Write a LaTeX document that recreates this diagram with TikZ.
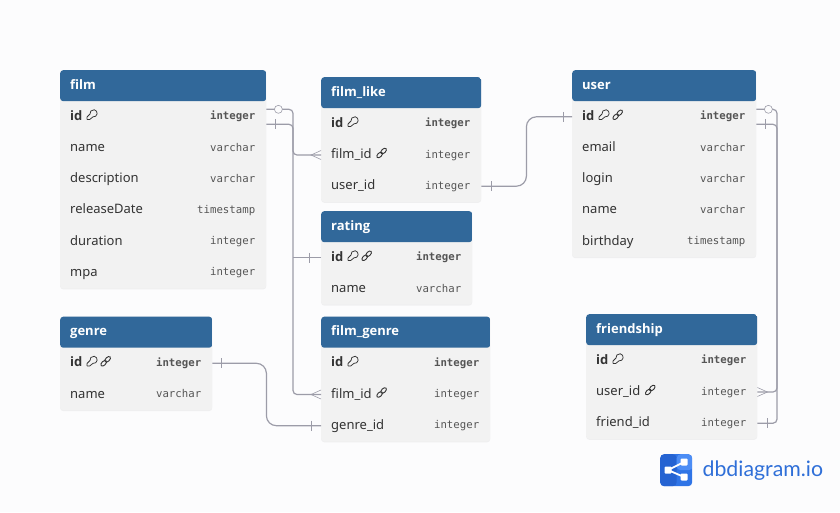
\documentclass[tikz,border=0pt]{standalone}
\usepackage{fontspec}
\setmainfont{Noto Sans}[BoldFont={Open Sans Bold}]
\setmonofont{DejaVu Sans Mono}
\newfontfamily\logofont{Lato}
\usetikzlibrary{positioning,shadows}
\definecolor{pagebg}{HTML}{FCFCFD}
\definecolor{headblue}{HTML}{31689A}
\definecolor{rowgray}{HTML}{F2F2F2}
\definecolor{textdark}{HTML}{333333}
\definecolor{typegray}{HTML}{555555}
\definecolor{relgray}{HTML}{9C9CA8}
\definecolor{logodark}{HTML}{2563D2}
\definecolor{logomid}{HTML}{2F74E6}
\definecolor{logolight}{HTML}{4C8DF5}
\definecolor{logotext}{HTML}{2F6FD8}
\tikzset{
    tablebox/.style={anchor=north west,fill=rowgray,rounded corners=3pt,inner sep=0pt,
        drop shadow={shadow xshift=0pt,shadow yshift=-1pt,fill=black,opacity=.05}},
    tablehead/.style={anchor=north west,inner sep=0pt,minimum height=31pt,text=white,
        text height=11pt,text depth=4pt,font=\fontsize{13}{15}\selectfont\bfseries},
    tablerow/.style={anchor=north west,inner ysep=0pt,inner xsep=10pt,minimum height=31.2pt,align=left,
        text=textdark,text height=11pt,text depth=4pt,font=\fontsize{13}{15}\selectfont},
    rowtype/.style={anchor=east,inner sep=0pt,text=typegray,text height=9pt,text depth=3pt,font=\fontsize{10.7}{13}\selectfont\ttfamily},
    relline/.style={draw=relgray,line width=1.2pt,rounded corners=#1},
    relline/.default=4pt,
    relmark/.style={draw=relgray,line width=.6pt},
}
\newcommand{\keyicon}{\tikz[x=1pt,y=1pt,baseline=-.5pt,line width=.75pt]{
    \draw[line join=round] (.5,.4) -- (3.2,.4) -- (6.37,2.95) arc[start angle=-100,end angle=190,radius=3.6pt] -- (.5,2.9) -- cycle;
}}
\newcommand{\linkicon}{\tikz[x=1pt,y=1pt,baseline=-.5pt,line width=.9pt]{
    \draw[rotate around={45:(3,3)}] (3,3) ellipse (3.4pt and 2pt);
    \draw[rotate around={45:(7,7)}] (7,7) ellipse (3.4pt and 2pt);
}}
% id, title, x, y, width, rows
\newcommand{\dbtable}[6]{
    \foreach \rowname/\rowtype [count=\rowcount] in {#6} {\xdef\lastrow{\rowcount}}
    \pgfmathsetmacro{\boxh}{31+31.2*\lastrow}
    \pgfmathsetmacro{\rowtw}{#5-20}
    \node[tablebox,minimum width=#5pt,minimum height=\boxh pt,
        path picture={\fill[headblue] (path picture bounding box.north west) rectangle ++(#5,31);}]
        (#1) at (#3,#4) {};
    \node[tablehead,right=10pt of #1.north west,anchor=north west] (#1head) {#2};
    \foreach \rowname/\rowtype [count=\rowcount] in {#6} {
        \pgfmathsetmacro{\rowy}{-31-31.2*(\rowcount-1)}
        \node[tablerow,text width=\rowtw pt] (#1\rowcount) at ([yshift=\rowy pt]#1.north west) {\rowname};
        \node[rowtype] (#1\rowcount t) at ([xshift=-11pt]#1\rowcount.east) {\rowtype};
    }
}
\newcommand{\barmark}[2]{\draw[relmark] ([xshift=#1,yshift=5pt]#2) -- ([xshift=#1,yshift=-5pt]#2);}
\begin{document}
\begin{tikzpicture}[x=1pt,y=-1pt]
    \fill[pagebg] (0,0) rectangle (840,512);
    \useasboundingbox (0,0) rectangle (840,512);

    \dbtable{film}{film}{60}{70}{206}{\textbf{id} \keyicon/\textbf{integer},name/varchar,description/varchar,releaseDate/timestamp,duration/integer,mpa/integer}
    \dbtable{filmlike}{film\_like}{321}{77}{160}{\textbf{id} \keyicon/\textbf{integer},film\_id \linkicon/integer,user\_id/integer}
    \dbtable{rating}{rating}{321}{211}{151}{\textbf{id} \keyicon\,\linkicon/\textbf{integer},name/varchar}
    \dbtable{filmgenre}{film\_genre}{321}{316.5}{169}{\textbf{id} \keyicon/\textbf{integer},film\_id \linkicon/integer,genre\_id/integer}
    \dbtable{genre}{genre}{60}{316.5}{152}{\textbf{id} \keyicon\,\linkicon/\textbf{integer},name/varchar}
    \dbtable{user}{user}{572}{70}{184}{\textbf{id} \keyicon\,\linkicon/\textbf{integer},email/varchar,login/varchar,name/varchar,birthday/timestamp}
    \dbtable{friendship}{friendship}{586}{314}{171}{\textbf{id} \keyicon/\textbf{integer},user\_id \linkicon/integer,friend\_id/integer}

    % film side
    \coordinate (filmtrunk) at (293,0);
    \coordinate (filmtop) at ([yshift=7.5pt]film1.east);
    \coordinate (filmlow) at ([yshift=-7.5pt]film1.east);
    \draw[relline] (filmtop) -- (filmtop -| filmtrunk) -- (filmtrunk |- filmlike2.west) -- (filmlike2.west);
    \draw[relline] (filmlow) -- (filmlow -| filmtrunk) -- (filmtrunk |- filmgenre2.west) -- (filmgenre2.west);
    \draw[relline] (rating1.west) -- (rating1.west -| filmtrunk);
    \draw[relline=10pt] (genre1.east) -- ++(54,0) |- (filmgenre3.west);
    \draw[relline=10pt] (filmlike3.east) -- ++(45,0) |- (user1.west);

    % user side
    \coordinate (usertrunk) at (777,0);
    \coordinate (usertop) at ([yshift=7.5pt]user1.east);
    \coordinate (userlow) at ([yshift=-7.5pt]user1.east);
    \draw[relline] (usertop) -- (usertop -| usertrunk) -- (usertrunk |- friendship2.east) -- (friendship2.east);
    \draw[relline] (userlow) -- (userlow -| usertrunk) -- (usertrunk |- friendship3.east) -- (friendship3.east);

    % marks
    \draw[relmark,fill=pagebg] ([xshift=12pt]filmtop) circle (4pt);
    \draw[relmark,fill=pagebg] ([xshift=12pt]usertop) circle (4pt);
    \barmark{9pt}{filmlow}
    \barmark{9pt}{userlow}
    \barmark{-12pt}{rating1.west}
    \barmark{9pt}{genre1.east}
    \barmark{-10pt}{filmgenre3.west}
    \barmark{10pt}{filmlike3.east}
    \barmark{-9pt}{user1.west}
    \barmark{10pt}{friendship3.east}
    \draw[relmark] ([yshift=4.5pt]filmlike2.west) -- ([xshift=-10pt]filmlike2.west) -- ([yshift=-4.5pt]filmlike2.west);
    \draw[relmark] ([yshift=4.5pt]filmgenre2.west) -- ([xshift=-10pt]filmgenre2.west) -- ([yshift=-4.5pt]filmgenre2.west);
    \draw[relmark] ([yshift=4.5pt]friendship2.east) -- ([xshift=10pt]friendship2.east) -- ([yshift=-4.5pt]friendship2.east);

    % logo
    \node[anchor=north west,minimum size=32pt,inner sep=0pt,rounded corners=4pt,fill=logomid,
        path picture={
            \fill[logodark] (path picture bounding box.north west) rectangle ++(16.5,32);
            \fill[logolight] ([xshift=16.5pt]path picture bounding box.north west) rectangle ++(16,16);
        }] (logo) at (660,454) {};
    \draw[white,line width=1.8pt] (684,462) -- (668,470) -- (684,477);
    \fill[white,rounded corners=1pt] (680.5,458.5) rectangle ++(7,7) (664.5,466.5) rectangle ++(7,7) (680.5,473.5) rectangle ++(7,7);
    \node[anchor=west,inner sep=0pt,text=logotext,font=\fontsize{21.3}{24}\selectfont\logofont,right=10pt of logo] (logoname) {dbdiagram.io};
\end{tikzpicture}
\end{document}
